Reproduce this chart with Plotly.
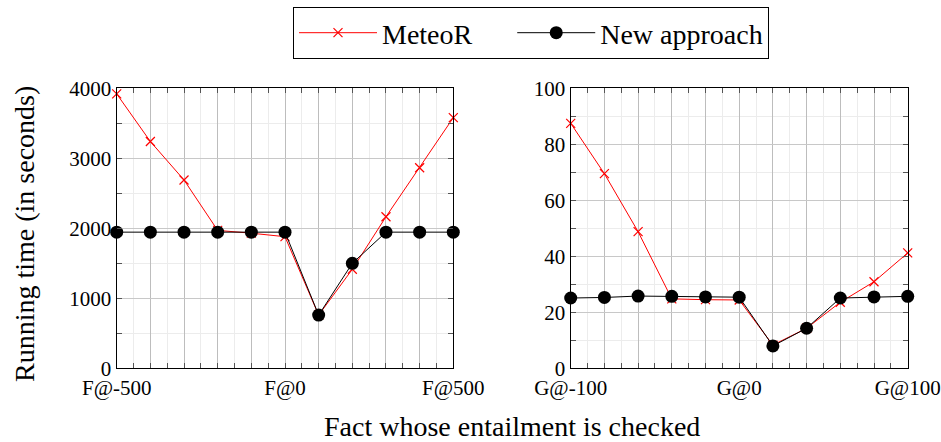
import plotly.graph_objects as go
from plotly.subplots import make_subplots

# ---- data ----
positions = list(range(11))
f_tick_vals = [0, 5, 10]
f_tick_text = ["F@-500", "F@0", "F@500"]
g_tick_text = ["G@-100", "G@0", "G@100"]
series_names = ["MeteoR", "New approach"]

f_meteor = [3920, 3240, 2690, 1970, 1930, 1880, 760, 1415, 2165, 2865, 3580]
f_new = [1945, 1945, 1945, 1945, 1945, 1945, 760, 1500, 1945, 1945, 1945]

g_meteor = [87.5, 69.5, 48.8, 24.8, 24.5, 24.4, 8.3, 14.3, 23.6, 30.9, 41.2]
g_new = [25.1, 25.3, 25.8, 25.7, 25.5, 25.4, 8.0, 14.3, 25.1, 25.5, 25.7]

FONT = "Liberation Serif"
W, H = 941, 442
PAD = "\u00a0" * 5  # extra gap after first legend entry

fig = make_subplots(rows=1, cols=2)

def add_pair(meteor, new, col, show):
    fig.add_trace(go.Scatter(
        x=positions, y=meteor, mode="lines+markers", name=series_names[0] + PAD,
        line=dict(color="#ff0000", width=1),
        marker=dict(symbol="x-thin", size=9, line=dict(color="#ff0000", width=1.2)),
        cliponaxis=False, showlegend=show, legendrank=1), row=1, col=col)
    fig.add_trace(go.Scatter(
        x=positions, y=new, mode="lines+markers", name=series_names[1],
        line=dict(color="#000000", width=1),
        marker=dict(symbol="circle", size=13, color="#000000"),
        cliponaxis=False, showlegend=show, legendrank=2), row=1, col=col)

add_pair(f_meteor, f_new, 1, True)
add_pair(g_meteor, g_new, 2, False)

x_common = dict(
    range=[0, 10], tickmode="array", showline=True, linecolor="black", linewidth=1.3,
    mirror="allticks", ticks="inside", ticklen=0, gridcolor="#bdbdbd", gridwidth=1,
    tickfont=dict(family=FONT, size=21, color="black"), zeroline=False, automargin=False,
    minor=dict(dtick=0.5, ticks="inside", ticklen=5, tickcolor="#555", showgrid=True,
               gridcolor="#ececec", gridwidth=1),
)
fig.update_xaxes(**x_common)
fig.update_xaxes(tickvals=positions,
                 ticktext=[f_tick_text[f_tick_vals.index(p)] if p in f_tick_vals else "" for p in positions],
                 domain=[116.7 / W, 453.3 / W], row=1, col=1)
fig.update_xaxes(tickvals=positions,
                 ticktext=[g_tick_text[f_tick_vals.index(p)] if p in f_tick_vals else "" for p in positions],
                 domain=[570.7 / W, 907.7 / W], row=1, col=2)

y_common = dict(
    showline=True, linecolor="black", linewidth=1.3, mirror="allticks", ticks="inside",
    ticklen=5, tickcolor="#555", gridcolor="#c8c8c8", gridwidth=1, zeroline=False,
    tickfont=dict(family=FONT, size=21, color="black"), automargin=False,
    domain=[1 - 368.3 / H, 1 - 88.3 / H],
)
fig.update_yaxes(**y_common)
fig.update_yaxes(range=[0, 4000], dtick=1000,
                 minor=dict(dtick=500, ticks="inside", ticklen=5, tickcolor="#555",
                            showgrid=True, gridcolor="#ececec"), row=1, col=1)
fig.update_yaxes(range=[0, 100], dtick=20,
                 minor=dict(dtick=10, ticks="inside", ticklen=5, tickcolor="#555",
                            showgrid=True, gridcolor="#ececec"), row=1, col=2)

fig.add_annotation(text="Fact whose entailment is checked", xref="paper", yref="paper",
                   x=512 / W, y=1 - 426 / H, xanchor="center", yanchor="middle",
                   showarrow=False, font=dict(family=FONT, size=28, color="black"))
fig.add_annotation(text="Running time (in seconds)", xref="paper", yref="paper",
                   x=24 / W, y=1 - 234 / H, xanchor="center", yanchor="middle", textangle=-90,
                   showarrow=False, font=dict(family=FONT, size=28, color="black"))

fig.update_layout(
    width=W, height=H, margin=dict(l=0, r=0, t=0, b=0),
    paper_bgcolor="white", plot_bgcolor="white",
    font=dict(family=FONT, color="black"),
    legend=dict(orientation="h", x=531 / W, y=1 - 7 / H, xanchor="center", yanchor="top",
                bordercolor="black", borderwidth=1, bgcolor="white",
                font=dict(family=FONT, size=28, color="black"),
                itemwidth=78, traceorder="normal"),
)

fig.write_html("out.html")
